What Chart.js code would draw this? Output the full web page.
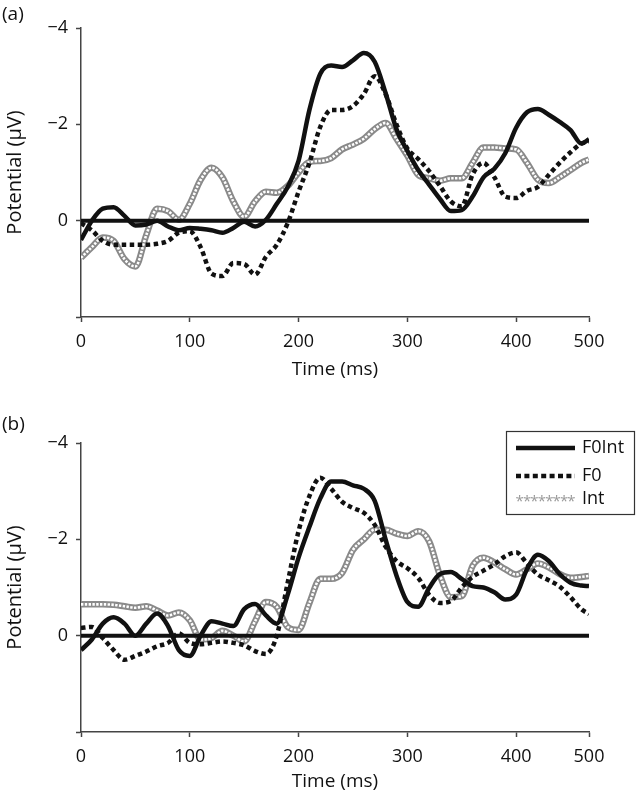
<!DOCTYPE html>
<html>
<head>
<meta charset="utf-8">
<script src="https://cdn.jsdelivr.net/npm/chart.js@4.4.1/dist/chart.umd.min.js"></script>
<style>
  body { margin: 0; background: #fff; }
  .panel { position: absolute; left: 0; width: 636px; height: 400px; }
</style>
</head>
<body>
<div class="panel" style="top:0"><canvas id="chartA" width="636" height="400"></canvas></div>
<div class="panel" style="top:400px"><canvas id="chartB" width="636" height="400"></canvas></div>
<script>
// time axis (ms); the last sample sits at the "500" tick like in the original plot
const times = [0, 10, 20, 30, 40, 50, 60, 70, 80, 90, 100, 110, 120, 130, 140, 150, 160, 170, 180, 190,
  200, 210, 220, 230, 240, 250, 260, 270, 280, 290, 300, 310, 320, 330, 340, 350, 360, 370, 380, 390,
  400, 410, 420, 430, 440, 450, 460, 467]
const tickValues = [0, 100, 200, 300, 400, 467]
const tickLabels = ['0', '100', '200', '300', '400', '500']
const baselineX = [0, 467]
const baselineY = [0, 0]
const legendLabels = ['F0Int', 'F0', 'Int']

// panel (a)
const topF0Int = [0.40, 0.0, -0.25, -0.28, -0.1, 0.1, 0.08, 0.0, 0.12, 0.2,
  0.15, 0.17, 0.2, 0.25, 0.15, 0.02, 0.12, -0.02, -0.35, -0.7,
  -1.24, -2.3, -3.05, -3.22, -3.19, -3.33, -3.48, -3.3, -2.65, -1.9,
  -1.45, -1.05, -0.75, -0.45, -0.2, -0.22, -0.5, -0.9, -1.08, -1.4,
  -1.93, -2.25, -2.32, -2.2, -2.05, -1.88, -1.6, -1.69]
const topF0 = [0.05, 0.2, 0.42, 0.5, 0.5, 0.5, 0.5, 0.48, 0.42, 0.25,
  0.22, 0.55, 1.1, 1.15, 0.88, 0.9, 1.12, 0.75, 0.5, 0.05,
  -0.6, -1.2, -1.95, -2.3, -2.3, -2.38, -2.63, -3.0, -2.63, -2.0,
  -1.5, -1.28, -1.03, -0.72, -0.4, -0.3, -0.96, -1.2, -0.9, -0.5,
  -0.47, -0.62, -0.7, -0.95, -1.2, -1.42, -1.6, -1.65]
const topInt = [0.77, 0.55, 0.35, 0.42, 0.8, 0.95, 0.3, -0.25, -0.2, -0.02,
  -0.35, -0.85, -1.1, -0.9, -0.4, -0.08, -0.4, -0.6, -0.58, -0.72,
  -1.0, -1.22, -1.24, -1.3, -1.48, -1.58, -1.7, -1.9, -2.03, -1.7,
  -1.35, -0.95, -0.88, -0.83, -0.88, -0.88, -1.2, -1.52, -1.52, -1.5,
  -1.48, -1.2, -0.85, -0.78, -0.9, -1.05, -1.2, -1.27]

// panel (b)
const bottomF0Int = [0.3, 0.08, -0.25, -0.38, -0.25, 0.0, -0.25, -0.46, -0.2, 0.3,
  0.42, 0.0, -0.3, -0.25, -0.2, -0.55, -0.66, -0.42, -0.25, -0.85,
  -1.62, -2.26, -2.85, -3.2, -3.2, -3.12, -3.05, -2.8, -2.0, -1.25,
  -0.7, -0.6, -0.99, -1.28, -1.32, -1.18, -1.03, -1.0, -0.9, -0.75,
  -0.85, -1.38, -1.68, -1.55, -1.28, -1.1, -1.04, -1.03]
const bottomF0 = [-0.16, -0.18, 0.05, 0.3, 0.5, 0.42, 0.33, 0.22, 0.15, -0.05,
  0.15, 0.18, 0.15, 0.12, 0.15, 0.2, 0.32, 0.38, 0.0, -1.1,
  -2.17, -2.9, -3.28, -3.05, -2.78, -2.65, -2.55, -2.3, -1.85, -1.55,
  -1.4, -1.2, -0.85, -0.68, -0.72, -1.0, -1.22, -1.35, -1.48, -1.65,
  -1.73, -1.5, -1.27, -1.15, -1.02, -0.8, -0.55, -0.45]
const bottomInt = [-0.65, -0.65, -0.65, -0.64, -0.61, -0.58, -0.61, -0.52, -0.42, -0.48,
  -0.32, 0.08, 0.05, -0.1, 0.0, 0.12, -0.3, -0.7, -0.6, -0.18,
  -0.12, -0.68, -1.18, -1.18, -1.3, -1.78, -2.0, -2.2, -2.2, -2.12,
  -2.07, -2.17, -1.96, -1.25, -0.8, -0.82, -1.45, -1.62, -1.52, -1.38,
  -1.27, -1.38, -1.5, -1.42, -1.28, -1.2, -1.22, -1.24]

const FONT = "'Open Sans', sans-serif"
const AXIS_COLOR = '#444'

const toPoints = (xs, ys) => xs.map((x, i) => ({ x: x, y: ys[i] }))

// "(a)" / "(b)" in the top left corner
const panelLabel = {
  id: 'panelLabel',
  afterDraw(chart, args, opts) {
    const ctx = chart.ctx
    ctx.save()
    ctx.font = '19px ' + FONT
    ctx.fillStyle = '#111'
    ctx.textBaseline = 'middle'
    ctx.fillText(opts.text, 2, opts.y)
    ctx.restore()
  }
}

// boxed legend like the original (only drawn on panel b)
const boxLegend = {
  id: 'boxLegend',
  afterDraw(chart, args, opts) {
    if (!opts.show) return
    const ctx = chart.ctx
    const ds = chart.data.datasets
    const rows = [48, 76, 99]
    ctx.save()
    ctx.fillStyle = '#fff'
    ctx.fillRect(506, 31, 129, 83)
    ctx.strokeStyle = '#333'
    ctx.lineWidth = 1.2
    ctx.strokeRect(506.5, 31.5, 128, 83)

    // solid
    ctx.strokeStyle = ds[0].borderColor
    ctx.lineWidth = ds[0].borderWidth
    ctx.beginPath(); ctx.moveTo(516, rows[0]); ctx.lineTo(575, rows[0]); ctx.stroke()
    // dotted
    ctx.setLineDash([5, 3.4])
    ctx.beginPath(); ctx.moveTo(516, rows[1]); ctx.lineTo(575, rows[1]); ctx.stroke()
    ctx.setLineDash([])
    // asterisks
    ctx.fillStyle = '#9a9a9a'
    ctx.font = '15px ' + FONT
    ctx.textAlign = 'center'
    ctx.textBaseline = 'middle'
    for (let i = 0; i < 8; i++) {
      ctx.fillText('*', 519.7 + i * 7.4, rows[2] + 3)
    }

    ctx.fillStyle = '#111'
    ctx.font = '18px ' + FONT
    ctx.textAlign = 'left'
    legendLabels.forEach((t, i) => ctx.fillText(t, 582, rows[i]))
    ctx.restore()
  }
}

function makeChart(id, f0int, f0, int, cfg) {
  const line = {
    pointRadius: 0,
    fill: false,
    cubicInterpolationMode: 'monotone',
    borderCapStyle: 'butt'
  }
  return new Chart(document.getElementById(id), {
    type: 'line',
    data: {
      datasets: [
        { ...line, label: 'F0Int', data: toPoints(times, f0int), borderColor: '#111', borderWidth: 4.5, order: 0 },
        { ...line, label: 'F0', data: toPoints(times, f0), borderColor: '#111', borderWidth: 4.5, borderDash: [4.5, 3.5], order: 1 },
        { ...line, label: 'zero', data: toPoints(baselineX, baselineY), borderColor: '#111', borderWidth: 4, order: 2 },
        { ...line, label: 'Int', data: toPoints(times, int), borderColor: '#fff', borderWidth: 2.6, borderDash: [2.4, 1.4], order: 3 },
        { ...line, label: 'Int outline', data: toPoints(times, int), borderColor: '#8a8a8a', borderWidth: 6.5, order: 4 }
      ]
    },
    options: {
      responsive: false,
      animation: false,
      layout: { padding: { left: 0, right: 47, top: cfg.top, bottom: 0 } },
      plugins: {
        legend: { display: false },
        tooltip: { enabled: false },
        panelLabel: { text: cfg.label, y: cfg.labelY },
        boxLegend: { show: cfg.legend }
      },
      scales: {
        x: {
          type: 'linear',
          min: 0,
          max: 467,
          afterBuildTicks: axis => { axis.ticks = tickValues.map(v => ({ value: v })) },
          afterFit: axis => { axis.height = cfg.xHeight },
          grid: { drawOnChartArea: false, tickLength: 5, tickColor: AXIS_COLOR, tickWidth: 1.5 },
          border: { color: AXIS_COLOR, width: 1.5 },
          ticks: {
            autoSkip: false,
            maxRotation: 0,
            padding: 9,
            color: '#111',
            font: { family: FONT, size: 18 },
            callback: (v, i) => tickLabels[i]
          },
          title: {
            display: true,
            text: 'Time (ms)',
            color: '#111',
            font: { family: FONT, size: 19 },
            padding: { top: 0, bottom: cfg.titlePad }
          }
        },
        y: {
          min: -4,
          max: 2,
          reverse: true,
          afterFit: axis => { axis.width = 81 },
          grid: { drawOnChartArea: false, tickLength: 5, tickColor: AXIS_COLOR, tickWidth: 1.5 },
          border: { color: AXIS_COLOR, width: 1.5 },
          ticks: {
            stepSize: 2,
            padding: 8,
            color: '#111',
            font: { family: FONT, size: 18 },
            callback: v => v > 0 ? '' : (v < 0 ? '\u2212' + Math.abs(v) : '0')
          },
          title: {
            display: true,
            text: 'Potential (\u00b5V)',
            color: '#111',
            font: { family: FONT, size: 20 },
            padding: { top: 3, bottom: 0 }
          }
        }
      }
    },
    plugins: [panelLabel, boxLegend]
  })
}

makeChart('chartA', topF0Int, topF0, topInt, { label: '(a)', labelY: 15, top: 28, xHeight: 83, titlePad: 19, legend: false })
makeChart('chartB', bottomF0Int, bottomF0, bottomInt, { label: '(b)', labelY: 25, top: 43, xHeight: 68, titlePad: 7, legend: true })
</script>
</body>
</html>
